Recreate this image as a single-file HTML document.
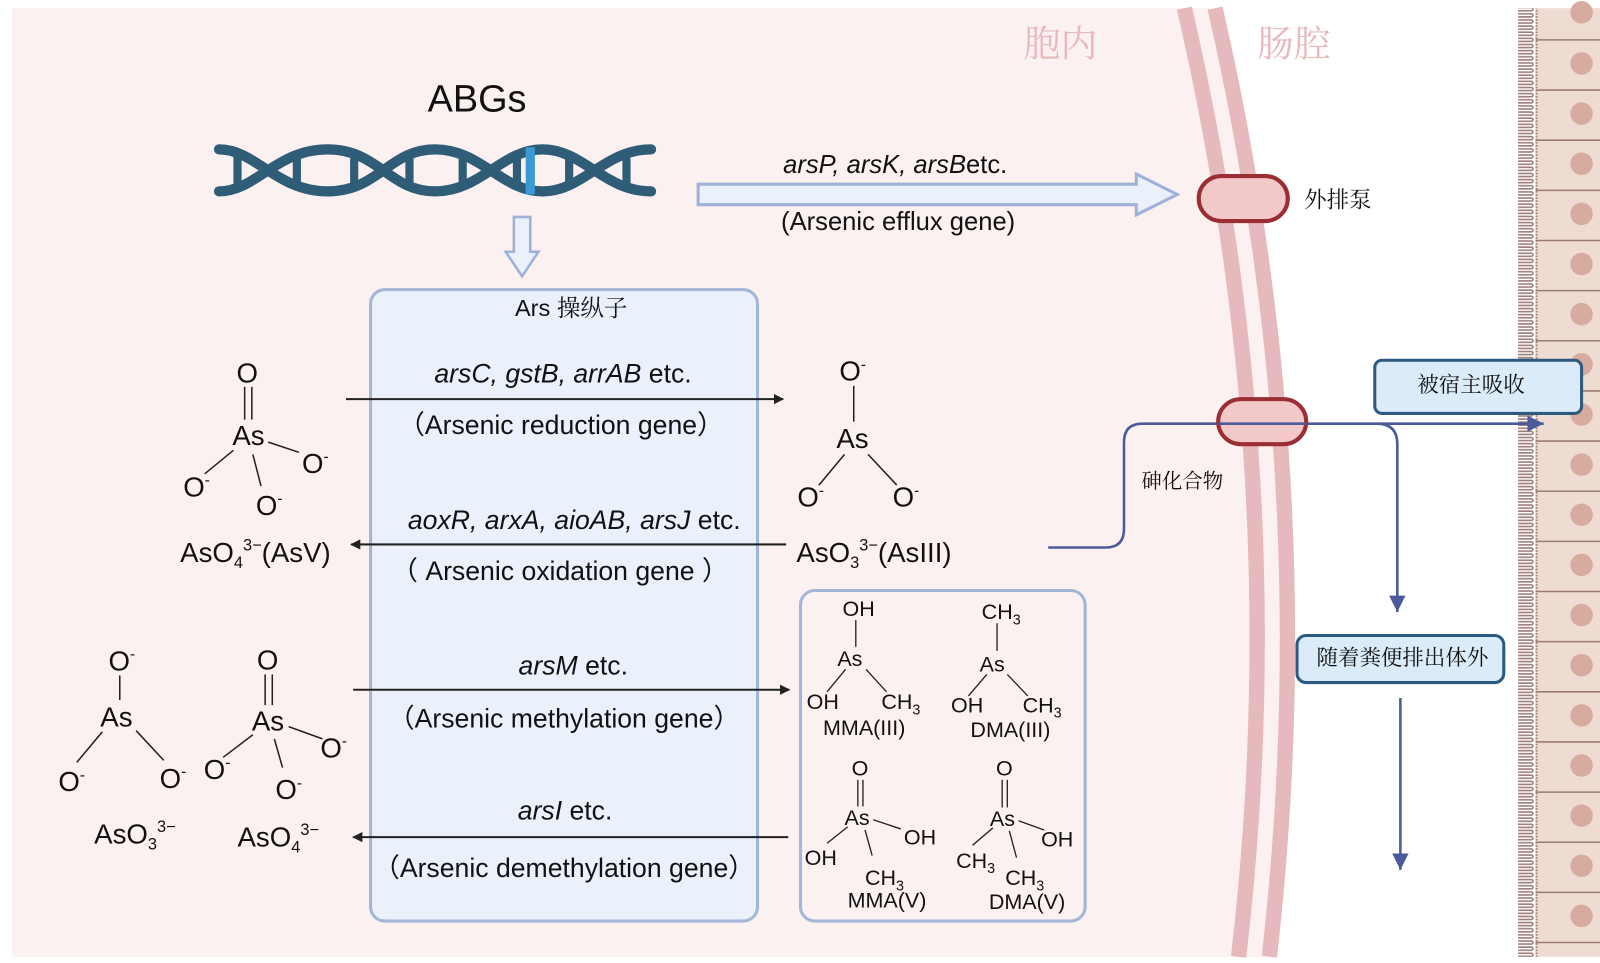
<!DOCTYPE html>
<html><head><meta charset="utf-8"><style>
html,body{margin:0;padding:0;background:#fff;}
svg{display:block;}
text{font-family:"Liberation Sans","Noto Sans CJK SC",sans-serif;fill:#111;}
.cn{font-family:"Noto Serif CJK SC","Noto Sans CJK SC",serif;}
</style></head><body>
<svg width="1600" height="963" viewBox="0 0 1563 941" preserveAspectRatio="none" xmlns="http://www.w3.org/2000/svg">
<defs>
<marker id="ak" markerWidth="10" markerHeight="10" refX="9" refY="5" orient="auto" markerUnits="userSpaceOnUse"><path d="M0,0 L10,5 L0,10 Z" fill="#222"/></marker>
<marker id="ab" markerWidth="18" markerHeight="18" refX="16" refY="8" orient="auto" markerUnits="userSpaceOnUse"><path d="M0,0 L16,8 L0,16 Z" fill="#4a5a9a"/></marker>
<pattern id="mv" width="20" height="6" patternUnits="userSpaceOnUse"><path d="M0,1.5 H16 A1.5,1.5 0 0 1 16,4.5 H0" fill="none" stroke="#a08078" stroke-width="1.6"/></pattern>
</defs>
<rect x="0" y="0" width="1563" height="941" fill="#fff"/>
<path d="M12,8 H1155 Q1260.5,470 1208,935 H12 Z" fill="#fcf1f1"/>
<path d="M1155,8 Q1260.5,470 1208,935 L1235,935 Q1287.5,470 1182,8 Z" fill="#fcf1f1"/>
<path d="M1157,8 Q1264,470 1210,935" fill="none" stroke="#e6b9bd" stroke-width="15"/>
<path d="M1187,8 Q1293,470 1240,935" fill="none" stroke="#e6b9bd" stroke-width="15"/>
<text x="1000" y="55" class="cn" font-size="36" style="fill:#e9b8bb">胞内</text>
<text x="1228" y="55" class="cn" font-size="36" style="fill:#e9b8bb">肠腔</text>
<rect x="1500" y="8" width="63" height="927" fill="#eedcd3"/>
<rect x="1483" y="8" width="19" height="927" fill="url(#mv)"/>
<g fill="#d8aba0" stroke="#9b7c72" stroke-width="1.5">
<circle cx="1545" cy="12" r="11" stroke="none"/>
<circle cx="1545" cy="62" r="11" stroke="none"/><line x1="1500" y1="39" x2="1563" y2="39"/>
<circle cx="1545" cy="111" r="11" stroke="none"/><line x1="1500" y1="88" x2="1563" y2="88"/>
<circle cx="1545" cy="160" r="11" stroke="none"/><line x1="1500" y1="137" x2="1563" y2="137"/>
<circle cx="1545" cy="209" r="11" stroke="none"/><line x1="1500" y1="186" x2="1563" y2="186"/>
<circle cx="1545" cy="258" r="11" stroke="none"/><line x1="1500" y1="235" x2="1563" y2="235"/>
<circle cx="1545" cy="307" r="11" stroke="none"/><line x1="1500" y1="284" x2="1563" y2="284"/>
<circle cx="1545" cy="356" r="11" stroke="none"/><line x1="1500" y1="333" x2="1563" y2="333"/>
<circle cx="1545" cy="405" r="11" stroke="none"/><line x1="1500" y1="382" x2="1563" y2="382"/>
<circle cx="1545" cy="454" r="11" stroke="none"/><line x1="1500" y1="431" x2="1563" y2="431"/>
<circle cx="1545" cy="503" r="11" stroke="none"/><line x1="1500" y1="480" x2="1563" y2="480"/>
<circle cx="1545" cy="552" r="11" stroke="none"/><line x1="1500" y1="529" x2="1563" y2="529"/>
<circle cx="1545" cy="601" r="11" stroke="none"/><line x1="1500" y1="578" x2="1563" y2="578"/>
<circle cx="1545" cy="650" r="11" stroke="none"/><line x1="1500" y1="627" x2="1563" y2="627"/>
<circle cx="1545" cy="699" r="11" stroke="none"/><line x1="1500" y1="676" x2="1563" y2="676"/>
<circle cx="1545" cy="748" r="11" stroke="none"/><line x1="1500" y1="725" x2="1563" y2="725"/>
<circle cx="1545" cy="797" r="11" stroke="none"/><line x1="1500" y1="774" x2="1563" y2="774"/>
<circle cx="1545" cy="846" r="11" stroke="none"/><line x1="1500" y1="823" x2="1563" y2="823"/>
<circle cx="1545" cy="895" r="11" stroke="none"/><line x1="1500" y1="872" x2="1563" y2="872"/>
<line x1="1500" y1="921" x2="1563" y2="921"/>
</g>
<text x="466" y="109" font-size="37" text-anchor="middle">ABGs</text>
<g stroke="#2f5d78" stroke-width="10" fill="none" stroke-linecap="round">
<path d="M214,146 C250,146 270,187 320,187 C370,187 380,146 425,146 C470,146 490,187 530,187 C570,187 590,146 636,146"/>
<path d="M214,187 C250,187 270,146 320,146 C370,146 380,187 425,187 C470,187 490,146 530,146 C570,146 590,187 636,187"/>
<g stroke-width="8">
<line x1="232" y1="150" x2="232" y2="184"/><line x1="290" y1="156" x2="290" y2="178"/>
<line x1="346" y1="156" x2="346" y2="178"/><line x1="400" y1="154" x2="400" y2="180"/>
<line x1="452" y1="156" x2="452" y2="178"/><line x1="505" y1="154" x2="505" y2="180"/>
<line x1="556" y1="156" x2="556" y2="178"/><line x1="612" y1="156" x2="612" y2="178"/>
</g>
</g>
<line x1="518" y1="144" x2="518" y2="190" stroke="#3a9ad6" stroke-width="9"/>
<path d="M502,212 H518 V246 H526 L510,270 L494,246 H502 Z" fill="#eaf1fb" stroke="#9fb1d8" stroke-width="2.5"/>
<path d="M682,180 H1110 V170 L1150,190 L1110,210 V200 H682 Z" fill="#eaf1fb" stroke="#9fb1d8" stroke-width="3"/>
<text x="765" y="169" font-size="25"><tspan font-style="italic">arsP, arsK, arsB</tspan>etc.</text>
<text x="763" y="225" font-size="25">(Arsenic efflux gene)</text>
<rect x="1171" y="172" width="87" height="44" rx="22" fill="#f3c8c8" stroke="#9b2d35" stroke-width="4"/>
<text x="1274" y="203" class="cn" font-size="22">外排泵</text>
<rect x="362" y="283" width="378" height="617" rx="14" fill="#eaf1fb" stroke="#a3b6d8" stroke-width="3"/>
<text x="558" y="309" font-size="23" text-anchor="middle">Ars <tspan class="cn">操纵子</tspan></text>
<g stroke="#222" stroke-width="2">
<line x1="338" y1="390" x2="765" y2="390" marker-end="url(#ak)"/>
<line x1="768" y1="532" x2="343" y2="532" marker-end="url(#ak)"/>
<line x1="345" y1="674" x2="771" y2="674" marker-end="url(#ak)"/>
<line x1="770" y1="818" x2="345" y2="818" marker-end="url(#ak)"/>
</g>
<g font-size="26" text-anchor="middle">
<text x="550" y="374"><tspan font-style="italic">arsC, gstB, arrAB</tspan> etc.</text>
<text x="548" y="424">（Arsenic reduction gene）</text>
<text x="561" y="517"><tspan font-style="italic">aoxR, arxA, aioAB, arsJ</tspan> etc.</text>
<text x="547" y="567">（ Arsenic oxidation gene ）</text>
<text x="560" y="659"><tspan font-style="italic">arsM</tspan> etc.</text>
<text x="551" y="711">（Arsenic methylation gene）</text>
<text x="552" y="801"><tspan font-style="italic">arsI</tspan> etc.</text>
<text x="551" y="857">（Arsenic demethylation gene）</text>
</g>
<g font-size="27">
<text x="231" y="374">O</text>
<text x="227" y="435">As</text>
<text x="179" y="485">O<tspan dy="-11" font-size="15">-</tspan></text>
<text x="295" y="462">O<tspan dy="-11" font-size="15">-</tspan></text>
<text x="250" y="503">O<tspan dy="-11" font-size="15">-</tspan></text>
<text x="176" y="549">AsO<tspan dy="6" font-size="16">4</tspan><tspan dy="-17" font-size="16">3−</tspan><tspan dy="11">(AsV)</tspan></text>
</g>
<g stroke="#222" stroke-width="1.5">
<line x1="239" y1="378" x2="239" y2="410"/><line x1="246" y1="378" x2="246" y2="410"/>
<line x1="228" y1="440" x2="200" y2="463"/><line x1="262" y1="432" x2="292" y2="442"/><line x1="247" y1="444" x2="255" y2="475"/>
</g>
<g font-size="27">
<text x="820" y="372">O<tspan dy="-11" font-size="15">-</tspan></text>
<text x="817" y="438">As</text>
<text x="779" y="495">O<tspan dy="-11" font-size="15">-</tspan></text>
<text x="872" y="495">O<tspan dy="-11" font-size="15">-</tspan></text>
<text x="778" y="549">AsO<tspan dy="6" font-size="16">3</tspan><tspan dy="-17" font-size="16">3−</tspan><tspan dy="11">(AsIII)</tspan></text>
</g>
<g stroke="#222" stroke-width="1.5">
<line x1="834" y1="377" x2="834" y2="412"/><line x1="825" y1="444" x2="800" y2="474"/><line x1="848" y1="444" x2="876" y2="474"/>
</g>
<g font-size="27">
<text x="106" y="655">O<tspan dy="-11" font-size="15">-</tspan></text>
<text x="98" y="710">As</text>
<text x="57" y="773">O<tspan dy="-11" font-size="15">-</tspan></text>
<text x="156" y="770">O<tspan dy="-11" font-size="15">-</tspan></text>
<text x="92" y="824">AsO<tspan dy="6" font-size="16">3</tspan><tspan dy="-17" font-size="16">3−</tspan></text>
<text x="251" y="654">O</text>
<text x="246" y="714">As</text>
<text x="199" y="761">O<tspan dy="-11" font-size="15">-</tspan></text>
<text x="313" y="740">O<tspan dy="-11" font-size="15">-</tspan></text>
<text x="269" y="781">O<tspan dy="-11" font-size="15">-</tspan></text>
<text x="232" y="827">AsO<tspan dy="6" font-size="16">4</tspan><tspan dy="-17" font-size="16">3−</tspan></text>
</g>
<g stroke="#222" stroke-width="1.5">
<line x1="117" y1="660" x2="117" y2="684"/><line x1="100" y1="715" x2="75" y2="745"/><line x1="133" y1="714" x2="160" y2="743"/>
<line x1="259" y1="659" x2="259" y2="689"/><line x1="266" y1="659" x2="266" y2="689"/>
<line x1="247" y1="718" x2="218" y2="740"/><line x1="282" y1="710" x2="315" y2="722"/><line x1="268" y1="722" x2="276" y2="750"/>
</g>
<rect x="782" y="577" width="278" height="323" rx="14" fill="none" stroke="#a3b6d8" stroke-width="3"/>
<g font-size="21">
<text x="823" y="602">OH</text><text x="818" y="651">As</text><text x="788" y="693">OH</text><text x="861" y="693">CH<tspan dy="5" font-size="14">3</tspan></text>
<text x="804" y="718">MMA(III)</text>
<text x="959" y="605">CH<tspan dy="5" font-size="14">3</tspan></text><text x="957" y="656">As</text><text x="929" y="696">OH</text><text x="999" y="696">CH<tspan dy="5" font-size="14">3</tspan></text>
<text x="948" y="720">DMA(III)</text>
<text x="832" y="758">O</text><text x="825" y="806">As</text><text x="786" y="845">OH</text><text x="883" y="825">OH</text><text x="845" y="865">CH<tspan dy="5" font-size="14">3</tspan></text>
<text x="828" y="887">MMA(V)</text>
<text x="973" y="758">O</text><text x="967" y="807">As</text><text x="934" y="848">CH<tspan dy="5" font-size="14">3</tspan></text><text x="1017" y="827">OH</text><text x="982" y="865">CH<tspan dy="5" font-size="14">3</tspan></text>
<text x="966" y="888">DMA(V)</text>
</g>
<g stroke="#222" stroke-width="1.3">
<line x1="836" y1="606" x2="836" y2="632"/><line x1="826" y1="654" x2="808" y2="676"/><line x1="846" y1="654" x2="866" y2="676"/>
<line x1="974" y1="609" x2="974" y2="636"/><line x1="964" y1="659" x2="946" y2="680"/><line x1="984" y1="659" x2="1004" y2="680"/>
<line x1="838" y1="762" x2="838" y2="788"/><line x1="843" y1="762" x2="843" y2="788"/><line x1="828" y1="808" x2="808" y2="824"/><line x1="853" y1="801" x2="880" y2="810"/><line x1="845" y1="811" x2="852" y2="836"/>
<line x1="979" y1="762" x2="979" y2="789"/><line x1="984" y1="762" x2="984" y2="789"/><line x1="970" y1="809" x2="950" y2="826"/><line x1="995" y1="802" x2="1020" y2="811"/><line x1="986" y1="812" x2="993" y2="838"/>
</g>
<path d="M1024,535 H1080 Q1098,535 1098,517 V432 Q1098,414 1116,414 H1508" fill="none" stroke="#4a5a9a" stroke-width="2.5" marker-end="url(#ab)"/>
<path d="M1345,414 Q1365,414 1365,434 V598" fill="none" stroke="#4a5a9a" stroke-width="2.5" marker-end="url(#ab)"/>
<rect x="1190" y="390" width="86" height="44" rx="22" fill="#f3c8c8" stroke="#9b2d35" stroke-width="4"/>
<line x1="1190" y1="414" x2="1276" y2="414" stroke="#4a5a9a" stroke-width="2.5"/>
<text x="1115" y="477" class="cn" font-size="20">砷化合物</text>
<rect x="1343" y="352" width="202" height="52" rx="7" fill="#dcebf8" stroke="#2c5a80" stroke-width="3"/>
<text x="1437" y="383" class="cn" font-size="21" text-anchor="middle">被宿主吸收</text>
<rect x="1267" y="621" width="202" height="46" rx="9" fill="#dcebf8" stroke="#2c5a80" stroke-width="3"/>
<text x="1370" y="650" class="cn" font-size="21" text-anchor="middle">随着粪便排出体外</text>
<line x1="1368" y1="682" x2="1368" y2="850" stroke="#4a5a9a" stroke-width="2.5" marker-end="url(#ab)"/>
</svg>
</body></html>
